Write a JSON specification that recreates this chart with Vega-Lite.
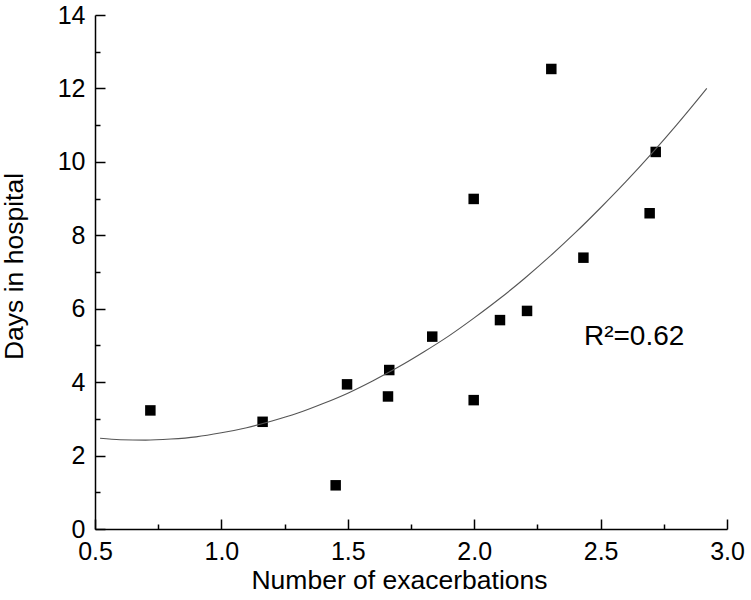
{
  "$schema": "https://vega.github.io/schema/vega-lite/v6.json",
  "width": 632,
  "height": 514,
  "autosize": {"type": "none"},
  "padding": {"left": 95, "top": 15, "right": 24, "bottom": 71},
  "config": {
    "view": {"stroke": null},
    "font": "Liberation Sans",
    "axis": {
      "grid": false,
      "domainColor": "black",
      "domainWidth": 1.5,
      "tickColor": "black",
      "tickWidth": 1.5,
      "labelColor": "black",
      "labelFontSize": 25,
      "labelFont": "Liberation Sans",
      "titleFont": "Liberation Sans",
      "titleFontSize": 26.5,
      "titleFontWeight": "normal",
      "titleColor": "black",
      "labelFlush": false,
      "labelOverlap": false
    }
  },
  "layer": [
    {
      "data": {
        "values": [
          {"exacerbations": 0.719, "days": 3.23},
          {"exacerbations": 1.163, "days": 2.92},
          {"exacerbations": 1.452, "days": 1.19},
          {"exacerbations": 1.497, "days": 3.94},
          {"exacerbations": 1.664, "days": 4.33},
          {"exacerbations": 1.659, "days": 3.61},
          {"exacerbations": 1.834, "days": 5.24},
          {"exacerbations": 1.998, "days": 8.99},
          {"exacerbations": 1.998, "days": 3.51},
          {"exacerbations": 2.102, "days": 5.69},
          {"exacerbations": 2.209, "days": 5.94},
          {"exacerbations": 2.305, "days": 12.53},
          {"exacerbations": 2.432, "days": 7.39},
          {"exacerbations": 2.694, "days": 8.6},
          {"exacerbations": 2.718, "days": 10.27}
        ]
      },
      "mark": {"type": "square", "size": 110, "color": "black", "opacity": 1},
      "encoding": {
        "x": {
          "field": "exacerbations", "type": "quantitative",
          "scale": {"domain": [0.5, 3.0], "nice": false, "zero": false},
          "axis": {
            "orient": "bottom",
            "values": [0.5, 1.0, 1.5, 2.0, 2.5, 3.0], "format": ".1f",
            "tickSize": -10, "labelPadding": 20,
            "title": "Number of exacerbations", "titlePadding": 3, "titleX": 304
          }
        },
        "y": {
          "field": "days", "type": "quantitative",
          "scale": {"domain": [0, 14], "nice": false},
          "axis": {
            "orient": "left",
            "values": [0, 2, 4, 6, 8, 10, 12, 14], "format": "d",
            "tickSize": -10, "labelPadding": 20,
            "title": "Days in hospital", "titlePadding": 29, "titleY": 251
          }
        }
      }
    },
    {
      "data": {
        "values": [
          {"exacerbations": 0.52, "days": 2.47},
          {"exacerbations": 0.6, "days": 2.43},
          {"exacerbations": 0.7, "days": 2.42},
          {"exacerbations": 0.8, "days": 2.45},
          {"exacerbations": 0.9, "days": 2.51},
          {"exacerbations": 1.0, "days": 2.62},
          {"exacerbations": 1.1, "days": 2.76},
          {"exacerbations": 1.2, "days": 2.94},
          {"exacerbations": 1.3, "days": 3.15},
          {"exacerbations": 1.4, "days": 3.41},
          {"exacerbations": 1.5, "days": 3.7},
          {"exacerbations": 1.6, "days": 4.04},
          {"exacerbations": 1.7, "days": 4.41},
          {"exacerbations": 1.8, "days": 4.82},
          {"exacerbations": 1.9, "days": 5.26},
          {"exacerbations": 2.0, "days": 5.75},
          {"exacerbations": 2.1, "days": 6.27},
          {"exacerbations": 2.2, "days": 6.83},
          {"exacerbations": 2.3, "days": 7.43},
          {"exacerbations": 2.4, "days": 8.07},
          {"exacerbations": 2.5, "days": 8.75},
          {"exacerbations": 2.6, "days": 9.46},
          {"exacerbations": 2.7, "days": 10.21},
          {"exacerbations": 2.8, "days": 11.0},
          {"exacerbations": 2.9, "days": 11.83},
          {"exacerbations": 2.92, "days": 12.0}
        ]
      },
      "mark": {"type": "line", "color": "#555555", "strokeWidth": 1.1, "interpolate": "monotone"},
      "encoding": {
        "x": {
          "field": "exacerbations", "type": "quantitative",
          "axis": {
            "orient": "bottom", "offset": 0,
            "values": [0.75, 1.25, 1.75, 2.25, 2.75],
            "tickSize": -5, "labels": false, "domain": false, "title": null
          }
        },
        "y": {
          "field": "days", "type": "quantitative",
          "axis": {
            "orient": "left", "offset": 0,
            "values": [1, 3, 5, 7, 9, 11, 13],
            "tickSize": -5, "labels": false, "domain": false, "title": null
          }
        }
      }
    },
    {
      "data": {"values": [{"exacerbations": 2.434, "days": 5.23, "label": "R²=0.62"}]},
      "mark": {"type": "text", "align": "left", "baseline": "middle", "fontSize": 28, "color": "black", "font": "Liberation Sans"},
      "encoding": {
        "x": {"field": "exacerbations", "type": "quantitative", "axis": null},
        "y": {"field": "days", "type": "quantitative", "axis": null},
        "text": {"field": "label"}
      }
    }
  ],
  "resolve": {"axis": {"x": "independent", "y": "independent"}}
}
